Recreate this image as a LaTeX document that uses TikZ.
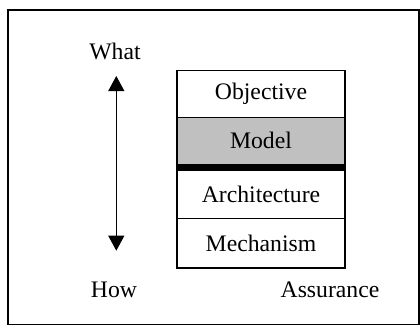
\documentclass[tikz,border=0pt]{standalone}
\usepackage{fontspec}
\setmainfont{Liberation Serif}
\usetikzlibrary{arrows.meta}
\begin{document}
\begin{tikzpicture}[x=1pt,y=-1pt,
  lbl/.style={font=\fontsize{23.7}{28}\selectfont, inner sep=0pt},
  layer/.style={draw=black, line width=1.3pt, minimum width=168pt, inner sep=0pt, font=\fontsize{23.7}{28}\selectfont}]
\useasboundingbox (0,0) rectangle (420,327);
\draw[line width=1.2pt] (8,10) rectangle (419,324.5);
\node[layer, minimum height=46.6pt] (obj) at (261,94) {Objective};
\node[layer, minimum height=47pt, fill={rgb,255:red,192;green,192;blue,192}] (mod) at (261,140.8) {Model};
\node[layer, minimum height=48pt] (arc) at (261,194.7) {Architecture};
\node[layer, minimum height=49.3pt] (mec) at (261,243.3) {Mechanism};
\draw[line width=6.5pt] (mod.south west) ++(0,3.2) coordinate (tl) -- (tl -| mod.south east);
\node[lbl] (what) at (115,51) {What};
\node[lbl] (how) at (114,290) {How};
\node[lbl] (ass) at (330,290) {Assurance};
\coordinate (atop) at (116.3,76);
\coordinate (abot) at (116.3,250.7);
\draw[line width=1pt, {Triangle[length=15pt,width=16pt]}-{Triangle[length=15pt,width=16pt]}] (atop) -- (abot);
\end{tikzpicture}
\end{document}
